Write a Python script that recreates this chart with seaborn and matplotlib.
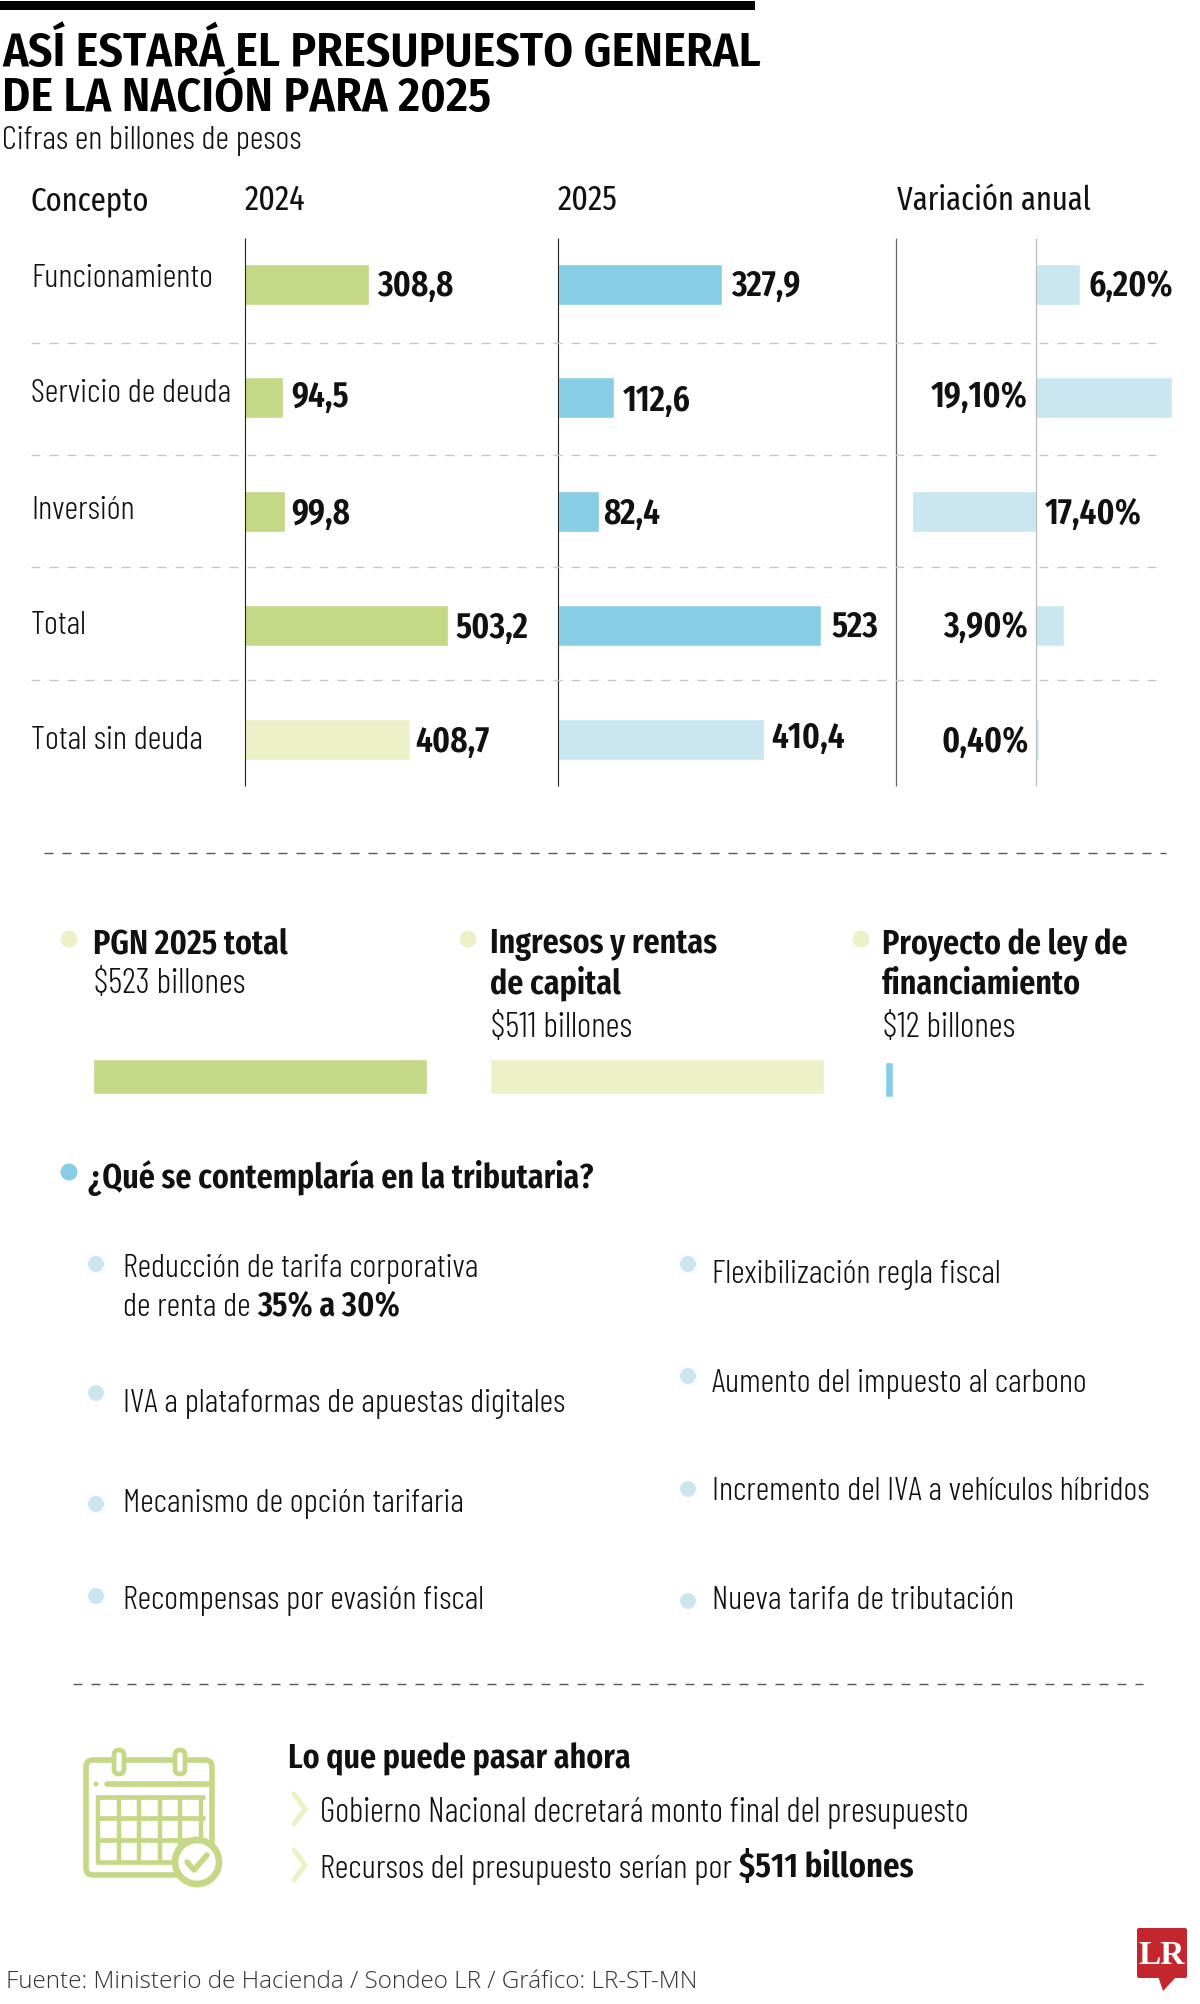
import matplotlib
matplotlib.use('Agg')
import matplotlib.pyplot as plt
import matplotlib.patches as patches
import seaborn as sns

# datos
conceptos = ['Funcionamiento', 'Servicio de deuda', 'Inversión', 'Total', 'Total sin deuda']
valores_2024 = [308.8, 94.5, 99.8, 503.2, 408.7]
valores_2025 = [327.9, 112.6, 82.4, 523, 410.4]
variacion = [6.2, 19.1, -17.4, 3.9, 0.4]
etiquetas_2024 = ['308,8', '94,5', '99,8', '503,2', '408,7']
etiquetas_2025 = ['327,9', '112,6', '82,4', '523', '410,4']
etiquetas_var = ['6,20%', '19,10%', '17,40%', '3,90%', '0,40%']
pgn_valores = [523, 511, 12]

VERDE = '#C5D886'
VERDE_CL = '#ECF1C8'
AZUL = '#87CDE6'
AZUL_CL = '#C9E6F1'
GRIS = '#C9C9C9'

COND = ['Fira Sans Extra Condensed', 'Open Sans Condensed', 'DejaVu Sans']
FINA = ['Barlow Condensed', 'Fira Sans Extra Condensed', 'Open Sans Condensed', 'DejaVu Sans']
TITULO = ['Fira Sans Condensed', 'Open Sans Condensed', 'DejaVu Sans']

sns.set_theme(style='white')
plt.rcParams['font.family'] = COND

W, H = 1200, 2004
fig = plt.figure(figsize=(W / 100, H / 100), dpi=100, facecolor='white')

# capa en pixeles para textos y adornos
bg = fig.add_axes([0, 0, 1, 1], zorder=5)
bg.set_xlim(0, W)
bg.set_ylim(H, 0)
bg.axis('off')
bg.patch.set_alpha(0)


def txt(x, y, s, size=24, weight=300, color='#111111', ha='left', va='baseline', family=None):
    if family is None:
        family = FINA if weight == 300 else COND
    return bg.text(x, y, s, fontsize=size, fontweight=weight, color=color, ha=ha, va=va, family=family)


def seguido(prev, s, size=24, weight=600, color='#111111'):
    # texto pegado a la derecha del anterior, misma linea base
    return bg.annotate(s, xy=(1, 0), xycoords=prev, xytext=(5, 0), textcoords='offset points',
                       fontsize=size, fontweight=weight, color=color, va='bottom', family=COND)


def punto(x, y, color, r=8.5):
    bg.add_patch(patches.Circle((x, y), r, facecolor=color, edgecolor='none'))


def dash(x0, x1, y, color=GRIS, lw=1.0, on=9, off=9):
    bg.plot([x0, x1], [y, y], color=color, lw=lw, dashes=(on / (lw * 100 / 72), off / (lw * 100 / 72)))


def panel(x0, ancho, xmin, xmax, valores, colores):
    # y: filas centradas en 284 + 113.75*i
    top = 284 - 113.75 / 2
    alto = 113.75 * 5
    ax = fig.add_axes([x0 / W, 1 - (top + alto) / H, ancho / W, alto / H], zorder=2)
    sns.barplot(x=valores, y=conceptos, hue=conceptos, palette=colores, orient='h', width=41 / 113.75,
                legend=False, dodge=False, saturation=1, ax=ax)
    ax.set_xlim(xmin, xmax)
    ax.set_ylim(4.5, -0.5)
    ax.axis('off')
    ax.patch.set_alpha(0)
    return ax


# barra superior
bg.add_patch(patches.Rectangle((0, 1), 755, 9, facecolor='black', edgecolor='none'))

# titulo
txt(2, 66, 'ASÍ ESTARÁ EL PRESUPUESTO GENERAL', 34.5, 600, 'black', family=TITULO)
txt(2, 111, 'DE LA NACIÓN PARA 2025', 34.5, 600, 'black', family=TITULO)
txt(2, 149, 'Cifras en billones de pesos', 24.2, 300)

# encabezados
txt(31, 210, 'Concepto', 24, 400)
txt(245, 210, '2024', 25, 400)
txt(558, 210, '2025', 25, 400)
txt(897, 210, 'Variación anual', 24, 400)

# paneles de barras
panel(244.5, 300, 0, 300 / 0.404, valores_2024, [VERDE] * 4 + [VERDE_CL])
panel(557.5, 300, 0, 300 / 0.503, valores_2025, [AZUL] * 4 + [AZUL_CL])
panel(896, 300, -140 / 7.1, 160 / 7.1, variacion, [AZUL_CL] * 5)

# ejes verticales
for x, c, lw in [(244.5, '#222222', 0.8), (557.5, '#222222', 0.8), (896, '#666666', 0.9), (1036, '#BBBBBB', 0.9)]:
    bg.plot([x, x], [238, 786], color=c, lw=lw, solid_capstyle='butt')

# separadores
for y in [343, 455, 567, 680]:
    dash(31, 1160, y)

# filas
y_concepto = [279, 394, 511, 626, 741]
for c, y in zip(conceptos, y_concepto):
    txt(31, y, c, 24.3, 300, va='center')

pos_2024 = [(377, 286), (291, 397), (291, 514), (456, 628), (415, 742)]
pos_2025 = [(731, 286), (623, 401), (603, 514), (832, 627), (771, 738)]
for s, (x, y) in zip(etiquetas_2024, pos_2024):
    txt(x, y, s, 26, 600, va='center')
for s, (x, y) in zip(etiquetas_2025, pos_2025):
    txt(x, y, s, 26, 600, va='center')

pos_var = [(1089, 286, 'left'), (1028, 397, 'right'), (1045, 514, 'left'), (1028, 627, 'right'), (1029, 742, 'right')]
for s, (x, y, ha) in zip(etiquetas_var, pos_var):
    txt(x, y, s, 26, 600, ha=ha, va='center')

dash(44, 1166, 853, color='#555555', lw=1.0)

# tres bloques PGN
for x in [69, 468, 861]:
    punto(x, 939, VERDE_CL)
txt(93, 953, 'PGN 2025 total', 25, 600)
txt(94, 993, '$523 billones', 25, 300)
txt(490, 953, 'Ingresos y rentas', 25, 600)
txt(490, 993, 'de capital', 25, 600)
txt(491, 1037, '$511 billones', 25, 300)
txt(882, 953, 'Proyecto de ley de', 25, 600)
txt(882, 993, 'financiamiento', 25, 600)
txt(883, 1037, '$12 billones', 25, 300)

for x0, y0, ancho, v, c in [(93, 1059, 334, pgn_valores[0], VERDE), (490, 1059, 334, pgn_valores[1], VERDE_CL),
                            (885, 1062, 8, pgn_valores[2], AZUL)]:
    a = fig.add_axes([x0 / W, 1 - (y0 + 35) / H, ancho / W, 35 / H], zorder=2)
    sns.barplot(x=[v], y=[''], color=c, saturation=1, width=1, orient='h', ax=a)
    a.set_xlim(0, v)
    a.axis('off')

# tributaria
punto(69, 1172, AZUL)
txt(88, 1188, '¿Qué se contemplaría en la tributaria?', 25, 600)

izq = [(1264, 1277, 'Reducción de tarifa corporativa'), (1393, 1412, 'IVA a plataformas de apuestas digitales'),
       (1504, 1512, 'Mecanismo de opción tarifaria'), (1596, 1609, 'Recompensas por evasión fiscal')]
der = [(1264, 1283, 'Flexibilización regla fiscal'), (1376, 1392, 'Aumento del impuesto al carbono'),
       (1489, 1500, 'Incremento del IVA a vehículos híbridos'), (1601, 1609, 'Nueva tarifa de tributación')]
for yp, yt, s in izq:
    punto(96, yp, AZUL_CL, 8)
    txt(123, yt, s, 24.2, 300)
for yp, yt, s in der:
    punto(688, yp, AZUL_CL, 8)
    txt(712, yt, s, 24.2, 300)
t = txt(123, 1316, 'de renta de', 24.2, 300)
seguido(t, '35% a 30%', 25, 600)

dash(73, 1143, 1684, color='#555555', lw=1.0)

# calendario
cv = dict(facecolor='none', edgecolor=VERDE, lw=4)
bg.add_patch(patches.FancyBboxPatch((86, 1760), 126, 115, boxstyle='round,pad=0,rounding_size=7', **cv))
bg.plot([107, 210], [1784, 1784], color=VERDE, lw=4)
punto(96, 1784, VERDE, 2.5)
for x in [119, 180]:
    bg.add_patch(patches.FancyBboxPatch((x - 5, 1750), 10, 24, boxstyle='round,pad=0,rounding_size=5',
                                        facecolor='white', edgecolor=VERDE, lw=3.4, zorder=3))
for i in range(6):
    xg = 98 + i * 20.6
    bg.plot([xg, xg], [1796, 1863], color=VERDE, lw=3.2, solid_capstyle='butt')
for yg in [1797, 1818, 1840, 1862]:
    bg.plot([96, 205], [yg, yg], color=VERDE, lw=3.4, solid_capstyle='butt')
bg.add_patch(patches.Circle((197, 1862), 22, facecolor='white', edgecolor=VERDE, lw=4.8, zorder=4))
bg.plot([187, 194, 207], [1862, 1870, 1855], color=VERDE, lw=4, zorder=5)

# lo que puede pasar
txt(288, 1768, 'Lo que puede pasar ahora', 25, 600)
for y0 in [1794, 1850]:
    bg.plot([294, 305, 294], [y0, y0 + 15, y0 + 30], color=VERDE_CL, lw=3.6, solid_joinstyle='miter')
txt(320, 1822, 'Gobierno Nacional decretará monto final del presupuesto', 24.5, 300)
t = txt(320, 1878, 'Recursos del presupuesto serían por', 24.4, 300)
seguido(t, '$511 billones', 25.5, 600)

# fuente y logo
txt(6, 1988, 'Fuente: Ministerio de Hacienda / Sondeo LR / Gráfico: LR-ST-MN', 17.5, 300, '#333333',
    family=['Open Sans', 'DejaVu Sans'])
bg.add_patch(patches.FancyBboxPatch((1137, 1928), 50, 50, boxstyle='round,pad=0,rounding_size=2',
                                    facecolor='#C4262E', edgecolor='none'))
bg.add_patch(patches.Polygon([(1158, 1976), (1177, 1976), (1163, 1991)], facecolor='#C4262E', edgecolor='none'))
txt(1162, 1956, 'LR', 24, 700, 'white', ha='center', va='center', family=['Liberation Serif', 'DejaVu Serif'])

fig.savefig('out.png', dpi=100)
